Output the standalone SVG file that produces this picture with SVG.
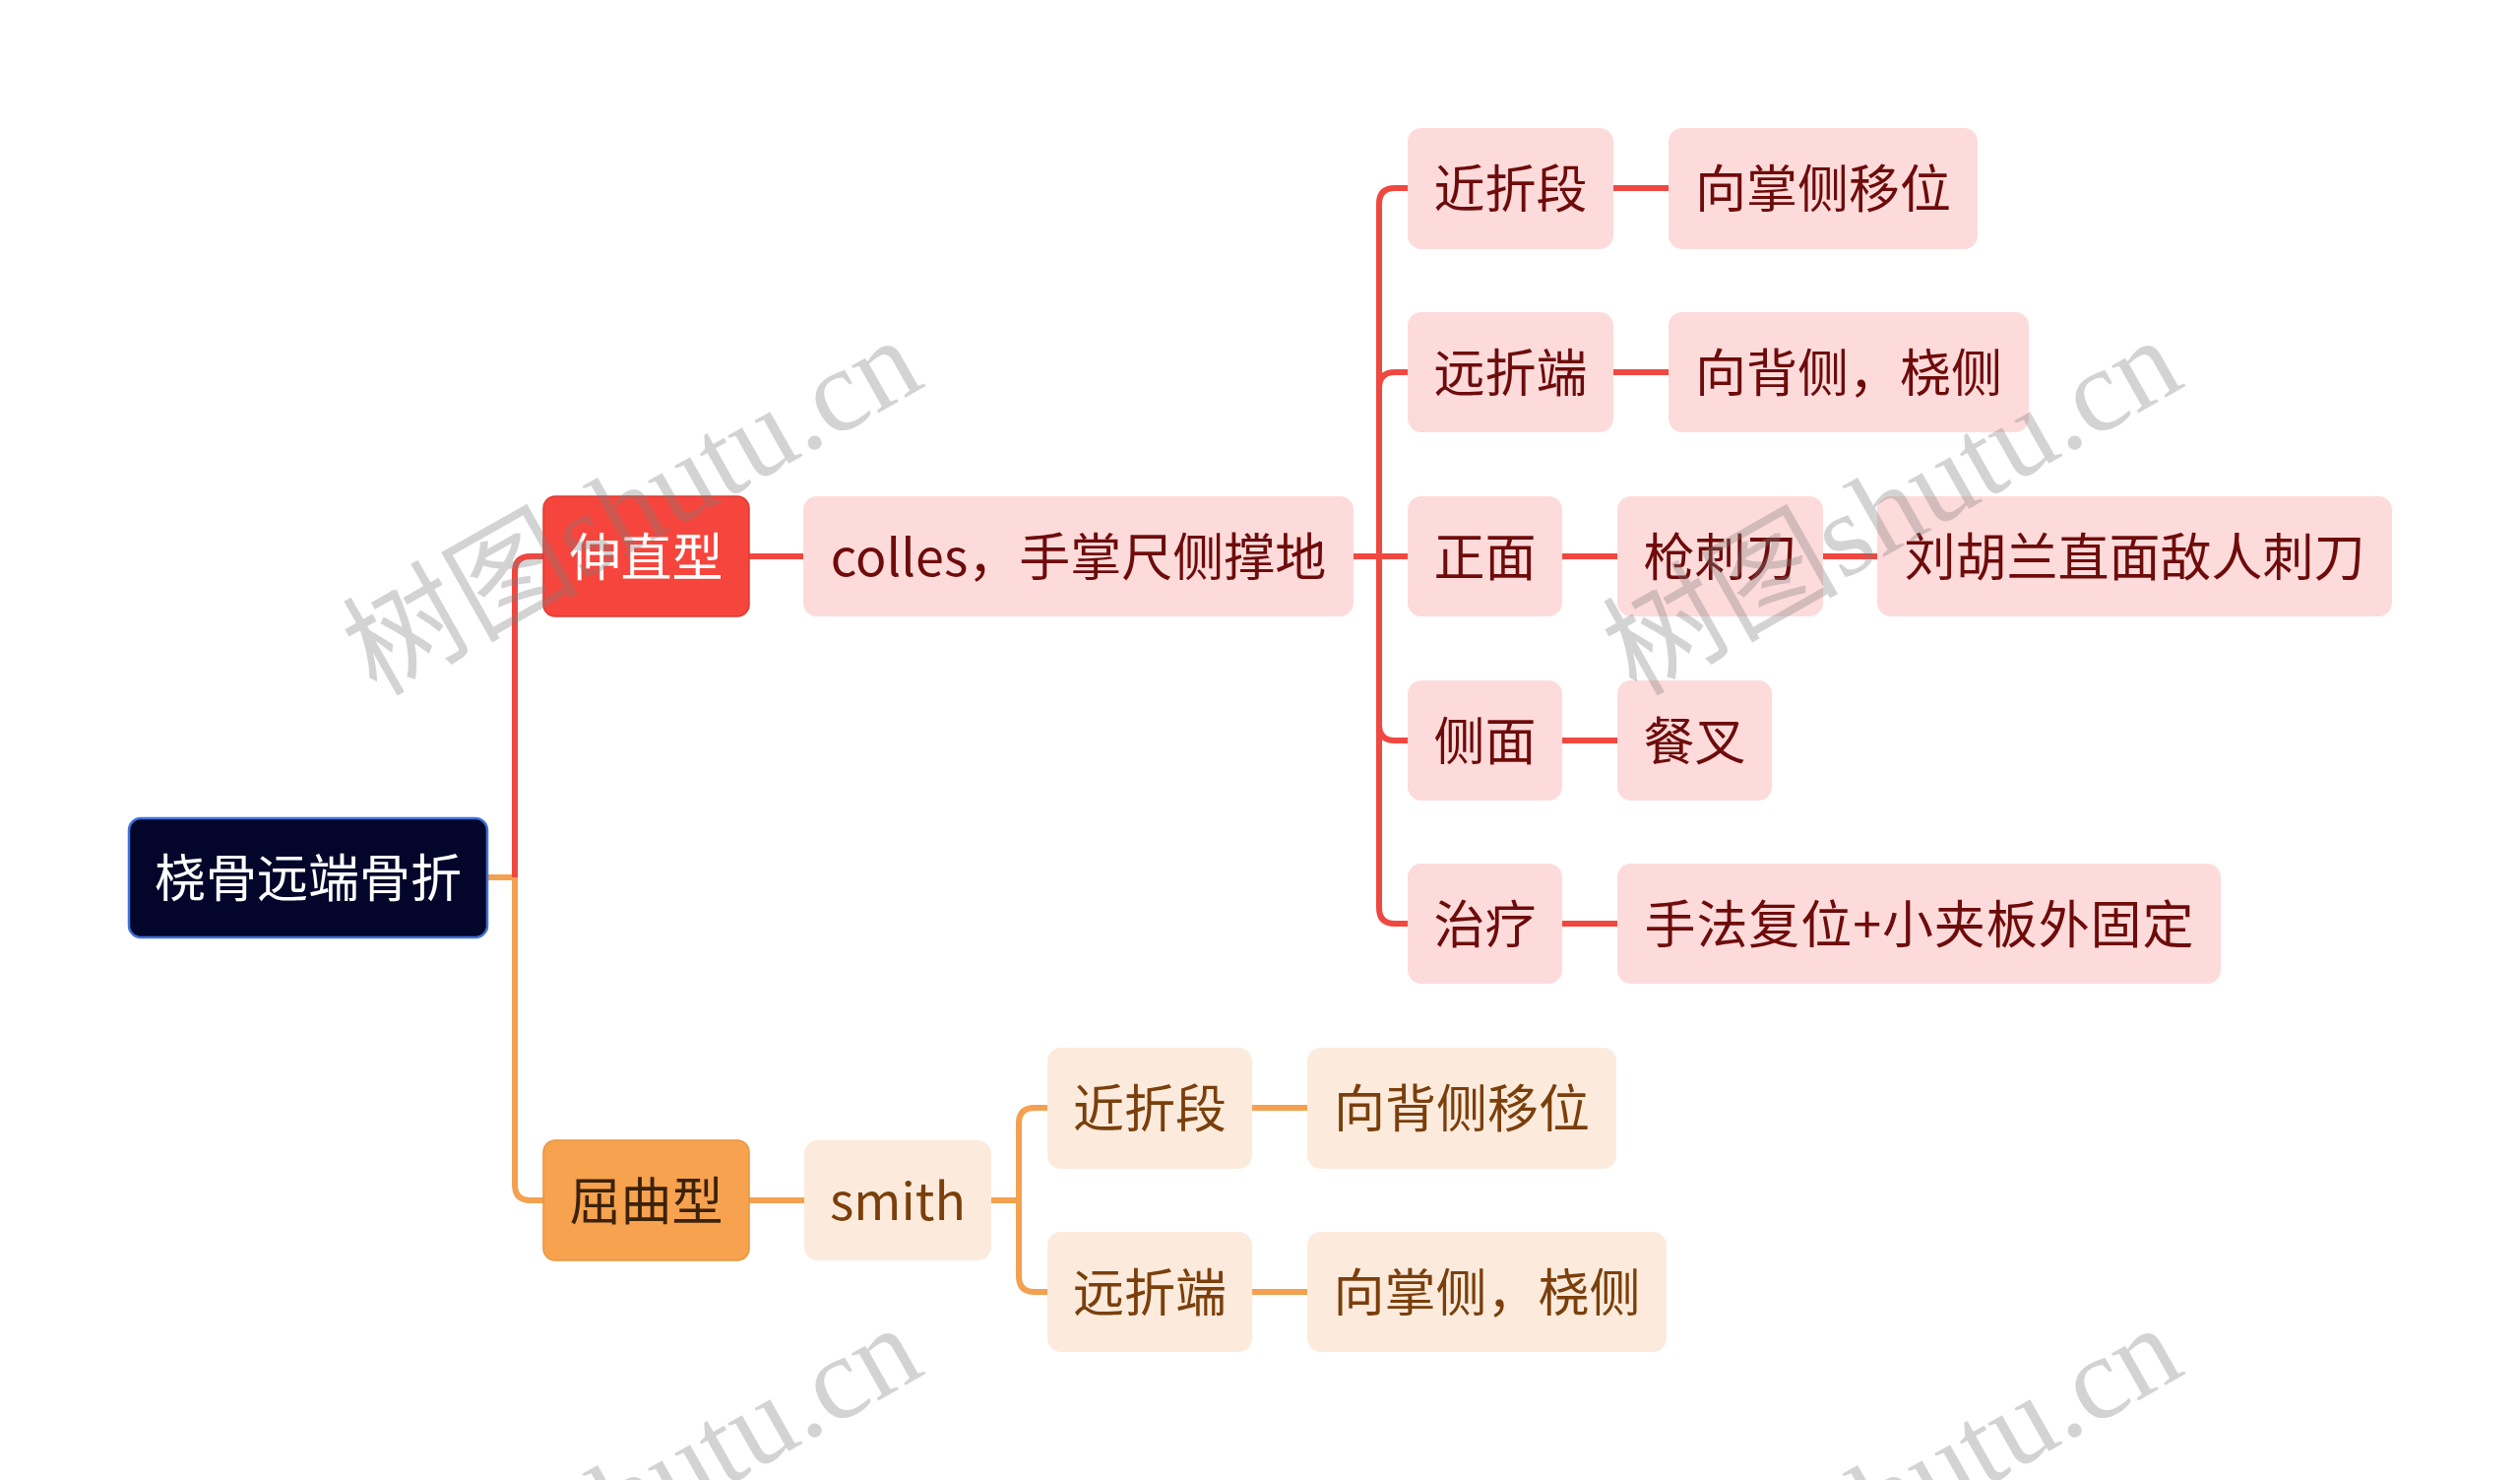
<svg xmlns="http://www.w3.org/2000/svg" width="2560" height="1503" viewBox="0 0 2560 1503">
<style>
  text { font-family: "Noto Sans CJK SC", "Noto Sans", sans-serif; font-size: 52px; text-anchor: middle; }
  .root rect { fill: #03052a; stroke: #3f73d8; stroke-width: 2.5; }
  .root text { fill: #ffffff; }
  .r1 rect { fill: #f6453c; stroke: #de3a32; stroke-width: 1.5; }
  .r1 text { fill: #ffffff; }
  .r2 rect { fill: #fddbda; }
  .r2 text { fill: #6e0b0b; }
  .o1 rect { fill: #f6a24e; stroke: #e8943f; stroke-width: 1.5; }
  .o1 text { fill: #3b2209; }
  .o2 rect { fill: #fcebdc; }
  .o2 text { fill: #7b3f0c; }
  .lr { fill: none; stroke: #ef4840; stroke-width: 6; }
  .lo { fill: none; stroke: #f3a150; stroke-width: 6; }
  .wm { font-family: "Liberation Serif", "Noto Sans CJK SC", serif; font-size: 120px; text-anchor: start; fill: #7f7f7f; fill-opacity: 0.34; }
</style>
<rect width="2560" height="1503" fill="#ffffff"/>

<g id="connectors">
  <path class="lo" d="M495,891 L523,891"/>
  <path class="lr" d="M523,891 L523,581 Q523,565 539,565 L552,565"/>
  <path class="lo" d="M523,891 L523,1203 Q523,1219 539,1219 L552,1219"/>
  <path class="lr" d="M761,565 L816,565"/>
  <path class="lr" d="M1375,565 L1430,565"/>
  <path class="lr" d="M1401,565 L1401,207 Q1401,191 1417,191 L1430,191"/>
  <path class="lr" d="M1401,565 L1401,394 Q1401,378 1417,378 L1430,378"/>
  <path class="lr" d="M1401,565 L1401,736 Q1401,752 1417,752 L1430,752"/>
  <path class="lr" d="M1401,565 L1401,922 Q1401,938 1417,938 L1430,938"/>
  <path class="lr" d="M1639,191 L1695,191"/>
  <path class="lr" d="M1639,378 L1695,378"/>
  <path class="lr" d="M1587,565 L1643,565"/>
  <path class="lr" d="M1852,565 L1907,565"/>
  <path class="lr" d="M1587,752 L1643,752"/>
  <path class="lr" d="M1587,938 L1643,938"/>
  <path class="lo" d="M761,1219 L817,1219"/>
  <path class="lo" d="M1007,1219 L1035,1219"/>
  <path class="lo" d="M1035,1219 L1035,1141 Q1035,1125 1051,1125 L1064,1125"/>
  <path class="lo" d="M1035,1219 L1035,1296 Q1035,1312 1051,1312 L1064,1312"/>
  <path class="lo" d="M1272,1125 L1328,1125"/>
  <path class="lo" d="M1272,1312 L1328,1312"/>
</g>

<g id="node-root" class="root"><rect x="131" y="831" width="364" height="121" rx="12"/><text x="313" y="911">桡骨远端骨折</text></g>

<g id="node-shenzhi" class="r1"><rect x="552" y="504" width="209" height="122" rx="12"/><text x="656.5" y="585">伸直型</text></g>
<g id="node-colles" class="r2"><rect x="816" y="504" width="559" height="122" rx="14"/><text x="1095.5" y="585">colles，手掌尺侧撑地</text></g>
<g id="node-r-jinzheduan" class="r2"><rect x="1430" y="130" width="209" height="123" rx="14"/><text x="1534.5" y="211">近折段</text></g>
<g id="node-r-yuanzheduan" class="r2"><rect x="1430" y="317" width="209" height="122" rx="14"/><text x="1534.5" y="398">远折端</text></g>
<g id="node-zhengmian" class="r2"><rect x="1430" y="504" width="157" height="122" rx="14"/><text x="1508.5" y="585">正面</text></g>
<g id="node-cemian" class="r2"><rect x="1430" y="691" width="157" height="122" rx="14"/><text x="1508.5" y="772">侧面</text></g>
<g id="node-zhiliao" class="r2"><rect x="1430" y="877" width="157" height="122" rx="14"/><text x="1508.5" y="958">治疗</text></g>
<g id="node-xiangzhang" class="r2"><rect x="1695" y="130" width="314" height="123" rx="14"/><text x="1852" y="211">向掌侧移位</text></g>
<g id="node-xiangbei" class="r2"><rect x="1695" y="317" width="366" height="122" rx="14"/><text x="1878" y="398">向背侧，桡侧</text></g>
<g id="node-qiangcidao" class="r2"><rect x="1643" y="504" width="209" height="122" rx="14"/><text x="1747.5" y="585">枪刺刀</text></g>
<g id="node-liuhulan" class="r2"><rect x="1907" y="504" width="523" height="122" rx="14"/><text x="2168.5" y="585">刘胡兰直面敌人刺刀</text></g>
<g id="node-canc" class="r2"><rect x="1643" y="691" width="157" height="122" rx="14"/><text x="1721.5" y="772">餐叉</text></g>
<g id="node-shoufa" class="r2"><rect x="1643" y="877" width="613" height="122" rx="14"/><text x="1949.5" y="958" textLength="558" lengthAdjust="spacing">手法复位+小夹板外固定</text></g>

<g id="node-quqv" class="o1"><rect x="552" y="1158" width="209" height="122" rx="12"/><text x="656.5" y="1239">屈曲型</text></g>
<g id="node-smith" class="o2"><rect x="817" y="1158" width="190" height="122" rx="14"/><text x="912" y="1239">smith</text></g>
<g id="node-o-jinzheduan" class="o2"><rect x="1064" y="1064" width="208" height="123" rx="14"/><text x="1168" y="1145">近折段</text></g>
<g id="node-o-yuanzheduan" class="o2"><rect x="1064" y="1251" width="208" height="122" rx="14"/><text x="1168" y="1332">远折端</text></g>
<g id="node-xiangbeiyiwei" class="o2"><rect x="1328" y="1064" width="314" height="123" rx="14"/><text x="1485" y="1145">向背侧移位</text></g>
<g id="node-xiangzhangrao" class="o2"><rect x="1328" y="1251" width="365" height="122" rx="14"/><text x="1510.5" y="1332">向掌侧，桡侧</text></g>

<g id="watermark">
  <text class="wm" transform="translate(382,708) rotate(-29.5)">树图shutu.cn</text>
  <text class="wm" transform="translate(1662,708) rotate(-29.5)">树图shutu.cn</text>
  <text class="wm" transform="translate(382,1711) rotate(-29.5)">树图shutu.cn</text>
  <text class="wm" transform="translate(1662,1711) rotate(-29.5)">树图shutu.cn</text>
</g>
</svg>
